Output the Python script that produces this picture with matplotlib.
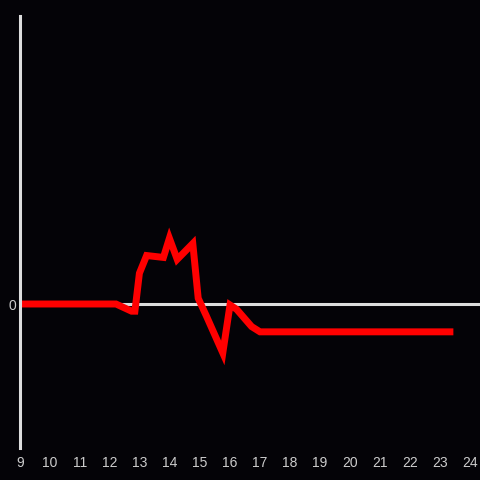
import matplotlib
matplotlib.use("Agg")
import matplotlib.pyplot as plt

# series
x_vals = [9.0, 12.2, 12.72, 12.83, 12.98, 13.22, 13.78, 13.98, 14.24, 14.76,
          14.94, 15.22, 15.76, 16.0, 16.22, 16.72, 17.0, 23.33]
y_vals = [0.0, 0.0, -0.15, -0.15, 0.64, 1.01, 0.97, 1.37, 0.93, 1.26,
          0.12, -0.26, -1.02, -0.02, -0.11, -0.47, -0.58, -0.58]
x_ticks = list(range(9, 25))
y_ticks = [0]

bg = "#040307"
fg = "#dddddd"

plt.rcParams["font.family"] = ["Liberation Sans", "DejaVu Sans"]
fig = plt.figure(figsize=(4.8, 4.8), dpi=100, facecolor=bg)
ax = fig.add_axes([20 / 480, 32 / 480, 460 / 480, 432 / 480], facecolor=bg)

ax.axhline(0, color=fg, lw=2.2, zorder=1)
ax.plot(x_vals, y_vals, color="#ff0000", lw=5, solid_joinstyle="miter", zorder=2)

ax.set_xlim(9, 9 + 460 / 30)
ax.set_ylim(-3, 6)
ax.set_xticks(x_ticks)
ax.set_yticks(y_ticks)
ax.tick_params(length=0, colors="#cccccc", labelsize=10)
ax.tick_params(axis="x", pad=6)
ax.tick_params(axis="y", pad=3)
for s in ["top", "right", "bottom"]:
    ax.spines[s].set_visible(False)
ax.spines["left"].set_color(fg)
ax.spines["left"].set_linewidth(2.2)

fig.savefig("out.png", dpi=100, facecolor=bg)
